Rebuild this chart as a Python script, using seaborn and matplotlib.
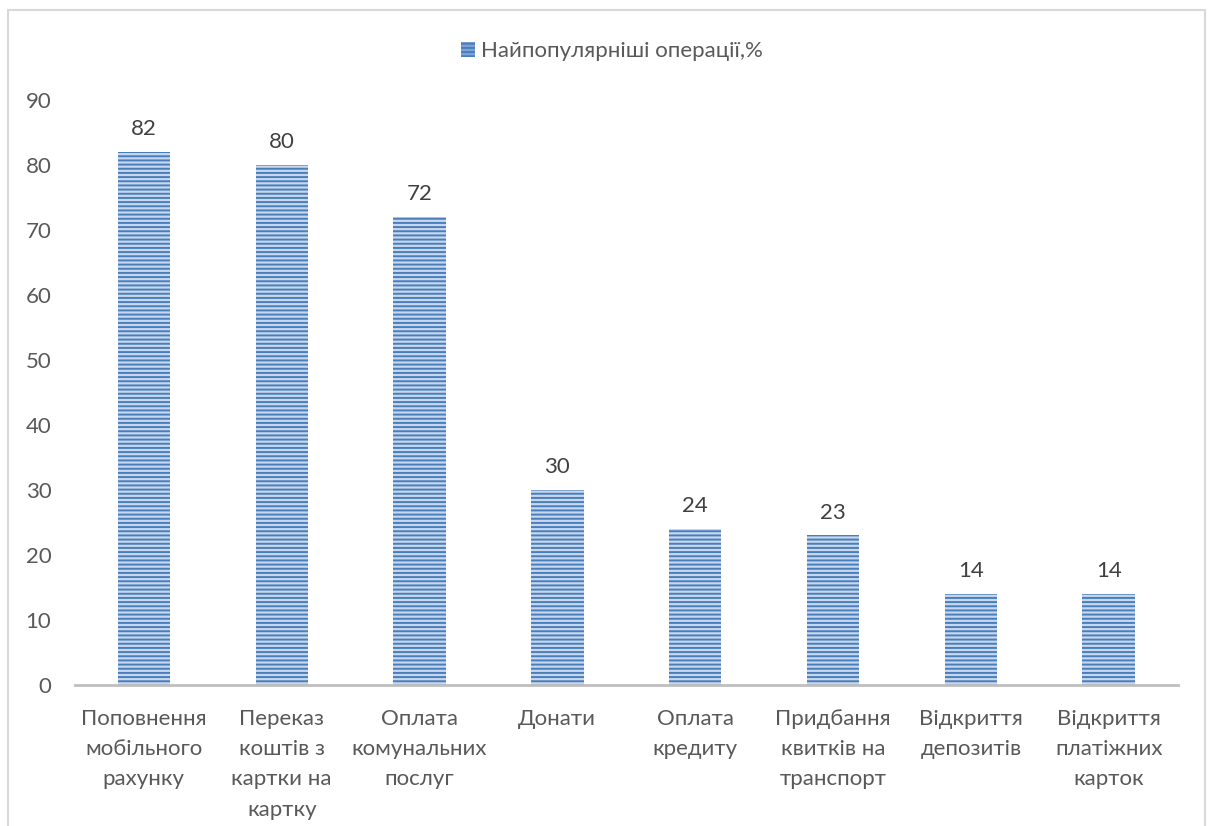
import matplotlib
matplotlib.use("Agg")
import matplotlib.pyplot as plt
import seaborn as sns
import pandas as pd
from matplotlib.patches import Rectangle, Patch

categories = ["Поповнення\nмобільного\nрахунку", "Переказ\nкоштів з\nкартки на\nкартку",
              "Оплата\nкомунальних\nпослуг", "Донати", "Оплата\nкредиту",
              "Придбання\nквитків на\nтранспорт", "Відкриття\nдепозитів",
              "Відкриття\nплатіжних\nкарток"]
values = [82, 80, 72, 30, 24, 23, 14, 14]
series_name = "Найпопулярніші операції,%"
yticks = [0, 10, 20, 30, 40, 50, 60, 70, 80, 90]

sns.set_theme(style="white")
plt.rcParams['font.family'] = ['Lato', 'DejaVu Sans']
plt.rcParams['hatch.linewidth'] = 1.4
plt.rcParams['hatch.color'] = '#4a7ebb'

text_color = '#595959'
df = pd.DataFrame({"cat": categories, "val": values})

fig = plt.figure(figsize=(12.09, 8.26), dpi=100)
ax = fig.add_axes([0.062, 0.1707, 0.912, 0.7083])

sns.barplot(data=df, x="cat", y="val", ax=ax, color='#c6d7ee', width=0.38,
            edgecolor='#4a7ebb', linewidth=0, hatch='----', saturation=1)

ax.set_ylim(0, 90)
ax.set_yticks(yticks)
ax.set_xlim(-0.5, len(categories) - 0.5)
ax.set_xlabel("")
ax.set_ylabel("")
for s in ['top', 'right', 'left']:
    ax.spines[s].set_visible(False)
ax.spines['bottom'].set_color('#bfbfbf')
ax.spines['bottom'].set_linewidth(2)
ax.tick_params(axis='y', labelsize=16, colors=text_color, length=0, pad=17)
ax.tick_params(axis='x', labelsize=16, colors=text_color, length=0, pad=17)
for lbl in ax.get_xticklabels():
    lbl.set_linespacing(1.65)
    lbl.set_verticalalignment('top')

for i, v in enumerate(values):
    ax.annotate(str(v), (i, v), xytext=(0, 9), textcoords='offset points',
                ha='center', va='bottom', fontsize=16, color='#404040')

handle = Patch(facecolor='#7fa3d6', edgecolor='#4a7ebb', linewidth=0, hatch='----')
fig.legend(handles=[handle], labels=[series_name], loc='center',
           bbox_to_anchor=(0.506, 0.938), frameon=False, fontsize=16,
           handlelength=0.65, handleheight=0.65, handletextpad=0.25, labelcolor=text_color)

fig.patches.append(Rectangle((0.007, -0.01), 0.99, 0.998, transform=fig.transFigure,
                             fill=False, edgecolor='#d9d9d9', linewidth=1.5))

fig.savefig("out.png", dpi=100)
